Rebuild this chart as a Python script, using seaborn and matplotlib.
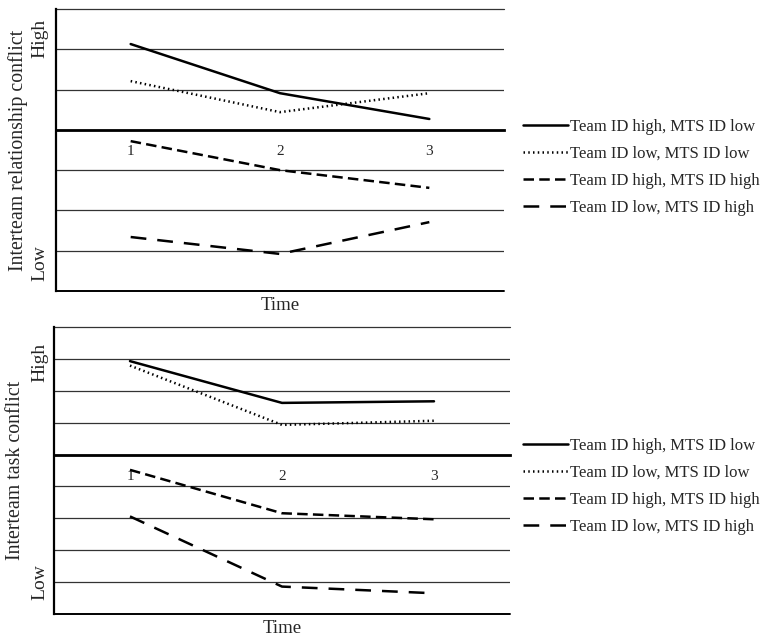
import matplotlib
matplotlib.use("Agg")
import matplotlib.pyplot as plt
import matplotlib.transforms as mtransforms
import seaborn as sns
import pandas as pd

time = [1, 2, 3]
groups = ["Team ID high, MTS ID low", "Team ID low, MTS ID low",
          "Team ID high, MTS ID high", "Team ID low, MTS ID high"]

# relationship conflict (top panel), grid units 0..7, x axis at 4
rel_hi_lo = [6.13, 4.91, 4.27]
rel_lo_lo = [5.21, 4.44, 4.91]
rel_hi_hi = [3.72, 3.00, 2.56]
rel_lo_hi = [1.34, 0.92, 1.71]

# task conflict (bottom panel), grid units 0..9, x axis at 5
task_hi_lo = [7.93, 6.62, 6.67]
task_lo_lo = [7.79, 5.93, 6.06]
task_hi_hi = [4.52, 3.16, 2.97]
task_lo_hi = [3.06, 0.86, 0.65]


def long_df(series):
    rows = []
    for g, vals in zip(groups, series):
        for t, v in zip(time, vals):
            rows.append({"time": t, "group": g, "value": v})
    return pd.DataFrame(rows)


rel_df = long_df([rel_hi_lo, rel_lo_lo, rel_hi_hi, rel_lo_hi])
task_df = long_df([task_hi_lo, task_lo_lo, task_hi_hi, task_lo_hi])

dash_map = {groups[0]: "", groups[1]: (0.6, 1.3),
            groups[2]: (4.2, 2.1), groups[3]: (6.3, 4.4)}

sns.set_theme(style="white")
plt.rcParams["font.family"] = ["Liberation Serif", "DejaVu Serif"]

fig = plt.figure(figsize=(7.64, 6.4), dpi=100)
ax1 = fig.add_axes([56 / 764, 1 - 291 / 640, 448 / 764, 282 / 640])
ax2 = fig.add_axes([54 / 764, 1 - 614 / 640, 456 / 764, 287 / 640])

panels = [
    (ax1, rel_df, 7, 4, "Interteam relationship conflict", 6.28, 0.69, -0.036, -0.053, 1.042, 0.438),
    (ax2, task_df, 9, 5, "Interteam task conflict", 7.9, 1.0, -0.031, -0.049, 1.028, 0.444),
]

for ax, df, ytop, axis_y, ylab, hi_y, lo_y, hl_x, time_y, lx, ly in panels:
    sns.lineplot(data=df, x="time", y="value", style="group", style_order=groups,
                 dashes=dash_map, color="black", linewidth=1.8, errorbar=None,
                 ax=ax, zorder=3)
    ax.set_xlim(0.5, 3.5)
    ax.set_ylim(0, ytop)
    ax.set_yticks(range(1, ytop))
    ax.set_yticklabels([])
    ax.set_xticks(time)
    ax.set_xticklabels([str(t) for t in time], fontsize=12.5)
    ax.grid(axis="y", color="#333333", linewidth=0.9)
    ax.grid(axis="x", visible=False)
    ax.axhline(ytop, color="#333333", linewidth=0.9, clip_on=False)
    ax.axhline(0, color="black", linewidth=1.4, clip_on=False)
    ax.tick_params(axis="both", length=0)
    ax.tick_params(axis="x", pad=11)
    ax.spines["top"].set_visible(False)
    ax.spines["right"].set_visible(False)
    ax.spines["bottom"].set_position(("data", axis_y))
    ax.spines["bottom"].set_linewidth(2)
    ax.spines["bottom"].set_color("black")
    ax.spines["left"].set_linewidth(1.6)
    ax.spines["left"].set_color("black")
    ax.set_xlabel("")
    ax.set_ylabel("")
    ax.text(0.5, time_y, "Time", transform=ax.transAxes, ha="center", va="center", fontsize=13.5)
    ax.text(-0.085, 0.5, ylab, transform=ax.transAxes, rotation=90,
            ha="center", va="center", fontsize=14.3)
    trans = mtransforms.blended_transform_factory(ax.transAxes, ax.transData)
    ax.text(hl_x, hi_y, "High", transform=trans, rotation=90, ha="center", va="center", fontsize=14)
    ax.text(hl_x, lo_y, "Low", transform=trans, rotation=90, ha="center", va="center", fontsize=14)
    sns.move_legend(ax, "center left", bbox_to_anchor=(lx, ly), title=None, frameon=False,
                    fontsize=12, handlelength=2.7, handletextpad=0.15, labelspacing=0.66,
                    borderpad=0, borderaxespad=0)

fig.savefig("out.png", dpi=100)
